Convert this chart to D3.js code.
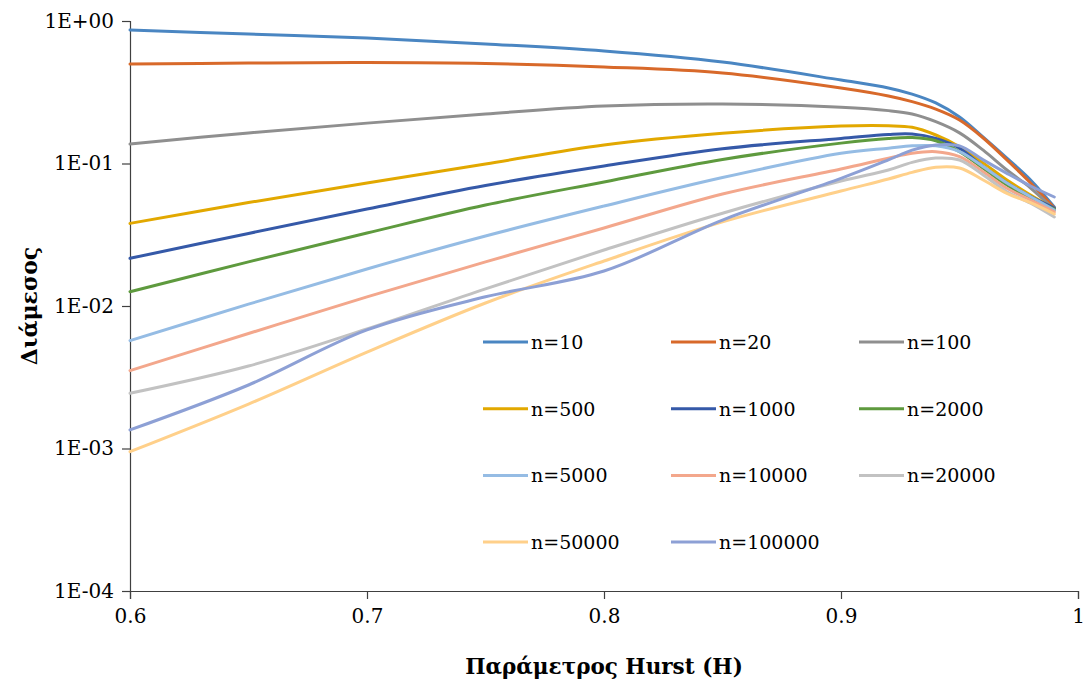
<!DOCTYPE html>
<html>
<head>
<meta charset="utf-8">
<script src="https://cdn.jsdelivr.net/npm/d3@7"></script>
<style>
  body { margin: 0; background: #fff; }
</style>
</head>
<body>
<svg id="chart" width="1085" height="684"></svg>
<script>
var FONT = "DejaVu Serif, serif";

// Hurst parameter values (x)
var hurst = [0.6, 0.65, 0.7, 0.75, 0.8, 0.85, 0.9, 0.92, 0.93, 0.94, 0.95, 0.96, 0.97, 0.98, 0.99];

// series names
var seriesNames = ["n=10", "n=20", "n=100", "n=500", "n=1000", "n=2000",
                   "n=5000", "n=10000", "n=20000", "n=50000", "n=100000"];

// median values per series
var n10     = [0.865, 0.81, 0.76, 0.69, 0.616, 0.515, 0.385, 0.339, 0.307, 0.266, 0.212, 0.153, 0.109, 0.0766, 0.0495];
var n20     = [0.499, 0.507, 0.511, 0.503, 0.476, 0.432, 0.339, 0.298, 0.272, 0.241, 0.202, 0.151, 0.106, 0.073, 0.0487];
var n100    = [0.137, 0.164, 0.192, 0.2225, 0.253, 0.2615, 0.248, 0.235, 0.2225, 0.1965, 0.164, 0.124, 0.090, 0.0673, 0.0472];
var n500    = [0.038, 0.0532, 0.073, 0.0992, 0.135, 0.163, 0.183, 0.184, 0.1795, 0.1585, 0.131, 0.101, 0.0766, 0.0601, 0.0479];
var n1000   = [0.0216, 0.0323, 0.0479, 0.0701, 0.096, 0.127, 0.150, 0.160, 0.161, 0.150, 0.128, 0.095, 0.073, 0.0585, 0.0487];
var n2000   = [0.0126, 0.0204, 0.0325, 0.0511, 0.0742, 0.1067, 0.139, 0.150, 0.152, 0.1445, 0.121, 0.0925, 0.0707, 0.057, 0.0479];
var n5000   = [0.00571, 0.0103, 0.0182, 0.031, 0.0503, 0.0797, 0.118, 0.128, 0.133, 0.133, 0.121, 0.095, 0.073, 0.0585, 0.0472];
var n10000  = [0.00352, 0.00641, 0.0116, 0.0204, 0.0353, 0.0611, 0.0915, 0.109, 0.118, 0.121, 0.1116, 0.0876, 0.067, 0.0554, 0.0457];
var n20000  = [0.00244, 0.00379, 0.0069, 0.0132, 0.0247, 0.0448, 0.0753, 0.090, 0.1018, 0.1092, 0.1058, 0.0831, 0.0634, 0.0526, 0.0421];
var n50000  = [0.00095, 0.00205, 0.00475, 0.0105, 0.0207, 0.0389, 0.0641, 0.0778, 0.0867, 0.0942, 0.093, 0.0766, 0.0618, 0.0531, 0.0442];
var n100000 = [0.00135, 0.00279, 0.00679, 0.0116, 0.0176, 0.0401, 0.0787, 0.106, 0.124, 0.135, 0.133, 0.106, 0.0853, 0.0695, 0.0582];

var seriesValues = [n10, n20, n100, n500, n1000, n2000, n5000, n10000, n20000, n50000, n100000];

var colors = ["#4a86c2", "#d8692a", "#8f8f8f", "#e2a800", "#3559a8", "#5e9a3e",
              "#95bce4", "#f3a78c", "#c2c2c2", "#ffd08a", "#8da0d5"];

var xTicks = [0.6, 0.7, 0.8, 0.9, 1];
var yTicks = [1e-4, 1e-3, 1e-2, 1e-1, 1];

var svg = d3.select("#chart");

var margin = {left: 130, right: 7, top: 21, bottom: 93};
var width = 1085 - margin.left - margin.right;
var height = 684 - margin.top - margin.bottom;

var g = svg.append("g").attr("transform", "translate(" + margin.left + "," + margin.top + ")");

var x = d3.scaleLinear().domain([0.6, 1]).range([0, width]);
var y = d3.scaleLog().domain([1e-4, 1]).range([height, 0]);

function fmtE(d) {
    var e = Math.round(Math.log10(d));
    var s = e < 0 ? "-" : "+";
    var a = Math.abs(e);
    return "1E" + s + (a < 10 ? "0" : "") + a;
}

// axes
var xAxis = g.append("g")
    .attr("transform", "translate(0," + height + ")")
    .call(d3.axisBottom(x).tickValues(xTicks).tickSize(8).tickPadding(10)
        .tickFormat(function(d){ return d === 1 ? "1" : d3.format(".1f")(d); }));
var yAxis = g.append("g")
    .call(d3.axisLeft(y).tickValues(yTicks).tickSize(8).tickPadding(8).tickFormat(fmtE));

[xAxis, yAxis].forEach(function(a){
    a.attr("font-family", FONT);
    a.select(".domain").attr("stroke", "#404040").attr("stroke-width", 1.2);
    a.selectAll(".tick line").attr("stroke", "#404040").attr("stroke-width", 1.2);
    a.selectAll(".tick text").attr("font-size", 20).attr("fill", "#000");
});

// lines
var line = d3.line()
    .x(function(d){ return x(d[0]); })
    .y(function(d){ return y(d[1]); })
    .curve(d3.curveCatmullRom.alpha(0.5));

var series = seriesNames.map(function(name, i){
    return {name: name, color: colors[i], points: hurst.map(function(h, j){ return [h, seriesValues[i][j]]; })};
});

g.append("g").attr("class", "lines")
    .selectAll("path")
    .data(series)
    .enter().append("path")
    .attr("fill", "none")
    .attr("stroke", function(d){ return d.color; })
    .attr("stroke-width", 3)
    .attr("stroke-linecap", "round")
    .attr("d", function(d){ return line(d.points); });

// legend
var legend = svg.append("g").attr("class", "legend").attr("font-family", FONT);
var legItems = legend.selectAll("g")
    .data(series)
    .enter().append("g")
    .attr("transform", function(d, i){
        var col = i % 3, row = Math.floor(i / 3);
        return "translate(" + (483 + col * 188) + "," + (342 + row * 66.7) + ")";
    });
legItems.append("line")
    .attr("x1", 0).attr("x2", 45).attr("y1", 0).attr("y2", 0)
    .attr("stroke", function(d){ return d.color; })
    .attr("stroke-width", 3);
legItems.append("text")
    .attr("x", 48).attr("y", 7)
    .attr("font-size", 19)
    .text(function(d){ return d.name; });

// axis titles
svg.append("text")
    .attr("x", margin.left + width / 2)
    .attr("y", 674)
    .attr("text-anchor", "middle")
    .attr("font-size", 21.5)
    .attr("font-weight", "bold")
    .attr("font-family", FONT)
    .text("Παράμετρος Hurst (H)");

svg.append("text")
    .attr("transform", "translate(37," + (margin.top + height / 2) + ") rotate(-90)")
    .attr("text-anchor", "middle")
    .attr("font-size", 22)
    .attr("font-weight", "bold")
    .attr("font-family", FONT)
    .text("Διάμεσος");
</script>
</body>
</html>
